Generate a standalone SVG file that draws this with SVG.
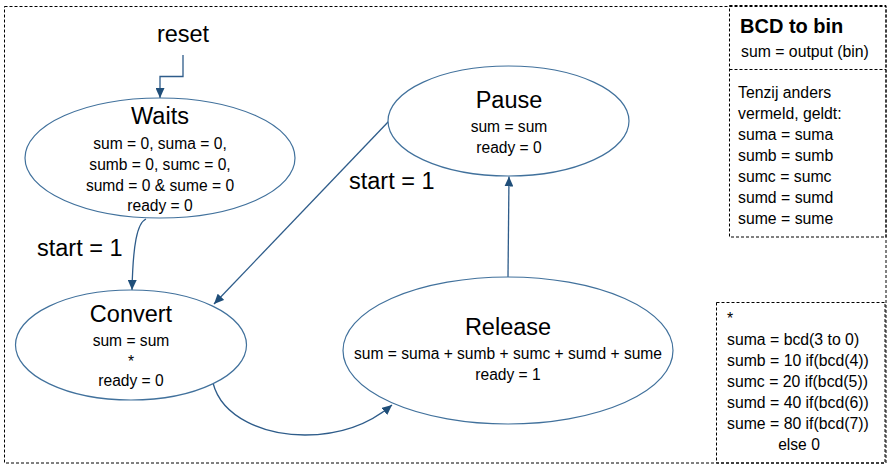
<svg xmlns="http://www.w3.org/2000/svg" width="891" height="469" viewBox="0 0 891 469">
<defs>
<style>
text{font-family:"Liberation Sans",Arial,sans-serif;fill:#000}
.t{font-size:23.5px;text-anchor:middle}
.b{font-size:15.6px;text-anchor:middle}
.l{font-size:15.8px}
.lbl{font-size:23.5px}
.st{fill:#fff;stroke:#41719C;stroke-width:1.2}
.con{fill:none;stroke:#2E5C8A;stroke-width:1.3}
.dash{fill:none;stroke:#000;stroke-width:1;stroke-dasharray:3 2}
</style>
<marker id="ah" markerUnits="userSpaceOnUse" markerWidth="10" markerHeight="9" refX="10" refY="4.5" orient="auto">
<path d="M0,0 L10,4.5 L0,9 z" fill="#1F4E79"/>
</marker>
</defs>
<rect width="891" height="469" fill="#fff"/>
<rect class="dash" x="4.5" y="6.5" width="881.5" height="456.5"/>

<g id="connectors">
<path class="con" d="M183,55 L183,76.5 L160,76.5 L160,98" marker-end="url(#ah)"/>
<path class="con" d="M146,219 C137,223 133,245 132,290" marker-end="url(#ah)"/>
<path class="con" d="M389,121 L214,304" marker-end="url(#ah)"/>
<path class="con" d="M213,383 C222,418 265,435 305,435 C345,435 373,421 392,405" marker-end="url(#ah)"/>
<path class="con" d="M508,277 L509,176.5" marker-end="url(#ah)"/>
<text class="lbl" x="37" y="256">start = 1</text>
<text class="lbl" x="349" y="189">start = 1</text>
</g>

<g id="reset">
<text class="t" x="183" y="42">reset</text>
</g>

<g id="waits">
<ellipse class="st" cx="160" cy="158" rx="135" ry="60"/>
<text class="t" x="160" y="124">Waits</text>
<text class="b" x="160" y="149">sum = 0, suma = 0,</text>
<text class="b" x="160" y="170">sumb = 0, sumc = 0,</text>
<text class="b" x="160" y="191">sumd = 0 &amp; sume = 0</text>
<text class="b" x="160" y="211">ready = 0</text>
</g>

<g id="pause">
<ellipse class="st" cx="508.5" cy="121" rx="120.5" ry="55"/>
<text class="t" x="509" y="108">Pause</text>
<text class="b" x="509" y="132">sum = sum</text>
<text class="b" x="509" y="153">ready = 0</text>
</g>

<g id="convert">
<ellipse class="st" cx="131" cy="345" rx="115.5" ry="55"/>
<text class="t" x="131" y="322">Convert</text>
<text class="b" x="131" y="346">sum = sum</text>
<text class="b" x="131" y="367">*</text>
<text class="b" x="131" y="386">ready = 0</text>
</g>

<g id="release">
<ellipse class="st" cx="508" cy="350.5" rx="165" ry="73.5"/>
<text class="t" x="508" y="335">Release</text>
<text class="b" x="508" y="359">sum = suma + sumb + sumc + sumd + sume</text>
<text class="b" x="508" y="380">ready = 1</text>
</g>

<g id="legend-top">
<rect class="dash" x="729.5" y="5.5" width="156.5" height="231.5" fill="#fff"/>
<line class="dash" x1="729.5" y1="69.5" x2="886" y2="69.5"/>
<text x="740" y="33" style="font-size:20px;font-weight:bold">BCD to bin</text>
<text class="l" x="741" y="57">sum = output (bin)</text>
<text class="l" x="738" y="98">Tenzij anders</text>
<text class="l" x="738" y="118.5">vermeld, geldt:</text>
<text class="l" x="738" y="139.5">suma = suma</text>
<text class="l" x="738" y="160.5">sumb = sumb</text>
<text class="l" x="738" y="181.5">sumc = sumc</text>
<text class="l" x="738" y="202.5">sumd = sumd</text>
<text class="l" x="738" y="223.5">sume = sume</text>
</g>

<g id="legend-bottom">
<rect class="dash" x="716.5" y="302.5" width="168.5" height="160.5" fill="#fff"/>
<text class="l" x="727" y="324">*</text>
<text class="l" x="727" y="345">suma = bcd(3 to 0)</text>
<text class="l" x="727" y="366">sumb = 10 if(bcd(4))</text>
<text class="l" x="727" y="387">sumc = 20 if(bcd(5))</text>
<text class="l" x="727" y="408">sumd = 40 if(bcd(6))</text>
<text class="l" x="727" y="429">sume = 80 if(bcd(7))</text>
<text class="b" x="799" y="450">else 0</text>
</g>
</svg>
